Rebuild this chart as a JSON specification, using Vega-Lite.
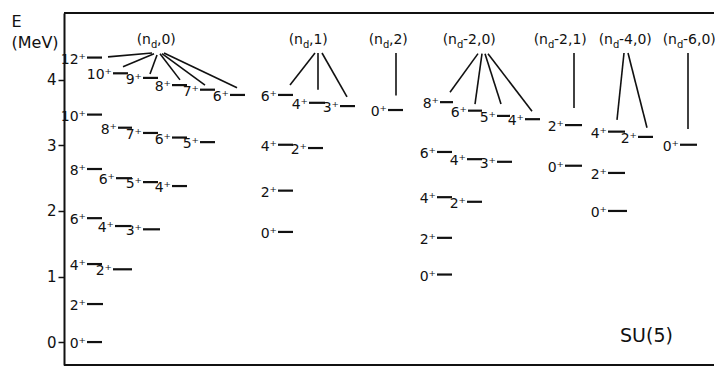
{
  "$schema": "https://vega.github.io/schema/vega-lite/v6.json",
  "width": 650,
  "height": 352,
  "autosize": {"type": "none"},
  "padding": {"left": 64, "top": 13, "right": 1, "bottom": 2},
  "background": "white",
  "config": {"view": {"stroke": null}, "font": "DejaVu Sans"},
  "datasets": {
    "levels": [
      {"J": "0⁺", "E": 0.0, "x": 4.6, "x2": 7.6},
      {"J": "2⁺", "E": 0.58, "x": 4.6, "x2": 7.8},
      {"J": "4⁺", "E": 1.19, "x": 4.6, "x2": 7.6},
      {"J": "2⁺", "E": 1.11, "x": 9.8, "x2": 13.6},
      {"J": "6⁺", "E": 1.89, "x": 4.6, "x2": 7.6},
      {"J": "4⁺", "E": 1.77, "x": 10.2, "x2": 13.4},
      {"J": "3⁺", "E": 1.72, "x": 15.8, "x2": 19.2},
      {"J": "8⁺", "E": 2.64, "x": 4.6, "x2": 7.6},
      {"J": "6⁺", "E": 2.5, "x": 10.4, "x2": 13.6},
      {"J": "5⁺", "E": 2.44, "x": 15.8, "x2": 18.8},
      {"J": "4⁺", "E": 2.38, "x": 21.6, "x2": 24.6},
      {"J": "10⁺", "E": 3.47, "x": 4.6, "x2": 7.6},
      {"J": "8⁺", "E": 3.27, "x": 10.8, "x2": 13.6},
      {"J": "7⁺", "E": 3.19, "x": 15.8, "x2": 18.8},
      {"J": "6⁺", "E": 3.12, "x": 21.6, "x2": 24.6},
      {"J": "5⁺", "E": 3.05, "x": 27.2, "x2": 30.2},
      {"J": "12⁺", "E": 4.34, "x": 4.6, "x2": 7.6},
      {"J": "10⁺", "E": 4.1, "x": 9.8, "x2": 12.8},
      {"J": "9⁺", "E": 4.03, "x": 15.8, "x2": 18.8},
      {"J": "8⁺", "E": 3.92, "x": 21.6, "x2": 24.6},
      {"J": "7⁺", "E": 3.85, "x": 27.2, "x2": 30.2},
      {"J": "6⁺", "E": 3.77, "x": 33.2, "x2": 36.2},
      {"J": "6⁺", "E": 3.77, "x": 42.8, "x2": 45.8},
      {"J": "4⁺", "E": 3.65, "x": 49.0, "x2": 52.2},
      {"J": "3⁺", "E": 3.6, "x": 55.2, "x2": 58.2},
      {"J": "4⁺", "E": 3.01, "x": 42.8, "x2": 45.8},
      {"J": "2⁺", "E": 2.96, "x": 48.8, "x2": 51.8},
      {"J": "2⁺", "E": 2.31, "x": 42.8, "x2": 45.8},
      {"J": "0⁺", "E": 1.68, "x": 42.8, "x2": 45.8},
      {"J": "0⁺", "E": 3.54, "x": 64.8, "x2": 67.8},
      {"J": "8⁺", "E": 3.66, "x": 75.2, "x2": 77.8},
      {"J": "6⁺", "E": 3.53, "x": 80.8, "x2": 83.6},
      {"J": "5⁺", "E": 3.45, "x": 86.6, "x2": 89.2},
      {"J": "4⁺", "E": 3.4, "x": 92.2, "x2": 95.2},
      {"J": "6⁺", "E": 2.9, "x": 74.6, "x2": 77.6},
      {"J": "4⁺", "E": 2.79, "x": 80.6, "x2": 83.6},
      {"J": "3⁺", "E": 2.75, "x": 86.6, "x2": 89.6},
      {"J": "4⁺", "E": 2.21, "x": 74.6, "x2": 77.6},
      {"J": "2⁺", "E": 2.14, "x": 80.6, "x2": 83.6},
      {"J": "2⁺", "E": 1.59, "x": 74.6, "x2": 77.6},
      {"J": "0⁺", "E": 1.03, "x": 74.6, "x2": 77.6},
      {"J": "2⁺", "E": 3.31, "x": 100.2, "x2": 103.6},
      {"J": "0⁺", "E": 2.69, "x": 100.2, "x2": 103.6},
      {"J": "4⁺", "E": 3.21, "x": 108.8, "x2": 112.2},
      {"J": "2⁺", "E": 3.13, "x": 114.8, "x2": 117.8},
      {"J": "2⁺", "E": 2.58, "x": 108.8, "x2": 112.2},
      {"J": "0⁺", "E": 2.0, "x": 108.8, "x2": 112.6},
      {"J": "0⁺", "E": 3.01, "x": 123.2, "x2": 126.6}
    ],
    "fans": [
      {"E": 4.35, "x": 8.8, "E2": 4.41, "x2": 17.6},
      {"E": 4.2, "x": 11.8, "E2": 4.4, "x2": 18.0},
      {"E": 4.09, "x": 17.2, "E2": 4.38, "x2": 18.6},
      {"E": 4.0, "x": 23.2, "E2": 4.4, "x2": 19.2},
      {"E": 3.92, "x": 28.2, "E2": 4.4, "x2": 19.6},
      {"E": 3.88, "x": 34.6, "E2": 4.41, "x2": 20.0},
      {"E": 3.92, "x": 45.2, "E2": 4.41, "x2": 50.2},
      {"E": 3.85, "x": 50.8, "E2": 4.41, "x2": 50.8},
      {"E": 3.74, "x": 56.6, "E2": 4.41, "x2": 51.6},
      {"E": 3.76, "x": 66.4, "E2": 4.41, "x2": 66.4},
      {"E": 3.81, "x": 77.2, "E2": 4.4, "x2": 82.8},
      {"E": 3.63, "x": 82.2, "E2": 4.4, "x2": 83.6},
      {"E": 3.63, "x": 87.4, "E2": 4.4, "x2": 84.2},
      {"E": 3.52, "x": 93.6, "E2": 4.4, "x2": 84.8},
      {"E": 3.57, "x": 102.0, "E2": 4.41, "x2": 102.0},
      {"E": 3.39, "x": 110.6, "E2": 4.41, "x2": 112.0},
      {"E": 3.27, "x": 116.6, "E2": 4.41, "x2": 112.8},
      {"E": 3.25, "x": 124.8, "E2": 4.41, "x2": 124.8}
    ],
    "groups": [
      {"rest": ",0)", "E": 4.61, "x": 17.4},
      {"rest": ",1)", "E": 4.61, "x": 47.8},
      {"rest": ",2)", "E": 4.61, "x": 63.8},
      {"rest": "-2,0)", "E": 4.61, "x": 78.6},
      {"rest": "-2,1)", "E": 4.61, "x": 96.8},
      {"rest": "-4,0)", "E": 4.61, "x": 109.8},
      {"rest": "-6,0)", "E": 4.61, "x": 122.6}
    ]
  },
  "encoding": {
    "y": {
      "field": "E",
      "type": "quantitative",
      "scale": {"domain": [-0.35, 5.02], "nice": false, "zero": false},
      "axis": {
        "values": [0, 1, 2, 3, 4],
        "grid": false,
        "domainWidth": 2,
        "domainColor": "#111",
        "tickColor": "#111",
        "tickSize": 6,
        "tickWidth": 1.5,
        "labelFontSize": 15,
        "labelFont": "DejaVu Sans",
        "labelColor": "#111",
        "labelPadding": 2,
        "title": ["\u2002E", "(MeV)"],
        "titleAngle": 0,
        "titleAlign": "left",
        "titleBaseline": "top",
        "titleX": -53,
        "titleY": 0,
        "titleFontSize": 16,
        "titleFontWeight": "normal",
        "titleFont": "DejaVu Sans",
        "titleColor": "#111",
        "titleLineHeight": 21
      }
    }
  },
  "layer": [
    {
      "data": {"values": [{"E": 5.02}, {"E": -0.35}]},
      "mark": {"type": "rule", "strokeWidth": 2, "color": "#111"},
      "encoding": {}
    },
    {
      "data": {"name": "levels"},
      "mark": {"type": "rule", "strokeWidth": 2.2, "color": "#111"},
      "encoding": {
        "x": {"field": "x", "type": "quantitative", "scale": {"domain": [0, 130], "nice": false, "zero": false}, "axis": null},
        "x2": {"field": "x2"}
      }
    },
    {
      "data": {"name": "levels"},
      "mark": {"type": "text", "align": "right", "baseline": "middle", "dx": -1, "dy": 2, "fontSize": 14, "font": "DejaVu Sans", "color": "#111"},
      "encoding": {
        "x": {"field": "x", "type": "quantitative", "scale": {"domain": [0, 130], "nice": false, "zero": false}, "axis": null},
        "text": {"field": "J"}
      }
    },
    {
      "data": {"name": "fans"},
      "mark": {"type": "rule", "strokeWidth": 1.6, "color": "#111"},
      "encoding": {
        "x": {"field": "x", "type": "quantitative", "scale": {"domain": [0, 130], "nice": false, "zero": false}, "axis": null},
        "x2": {"field": "x2"},
        "y2": {"field": "E2"}
      }
    },
    {
      "data": {"name": "groups"},
      "mark": {"type": "text", "align": "right", "baseline": "middle", "fontSize": 14, "font": "DejaVu Sans", "color": "#111"},
      "encoding": {
        "x": {"field": "x", "type": "quantitative", "scale": {"domain": [0, 130], "nice": false, "zero": false}, "axis": null},
        "text": {"value": "(n"}
      }
    },
    {
      "data": {"name": "groups"},
      "mark": {"type": "text", "align": "left", "baseline": "middle", "dx": 0, "dy": 5, "fontSize": 10, "font": "DejaVu Sans", "color": "#111"},
      "encoding": {
        "x": {"field": "x", "type": "quantitative", "scale": {"domain": [0, 130], "nice": false, "zero": false}, "axis": null},
        "text": {"value": "d"}
      }
    },
    {
      "data": {"name": "groups"},
      "mark": {"type": "text", "align": "left", "baseline": "middle", "dx": 6, "fontSize": 14, "font": "DejaVu Sans", "color": "#111"},
      "encoding": {
        "x": {"field": "x", "type": "quantitative", "scale": {"domain": [0, 130], "nice": false, "zero": false}, "axis": null},
        "text": {"field": "rest"}
      }
    },
    {
      "data": {"values": [{"label": "SU(5)", "E": 0.09, "x": 111.2}]},
      "mark": {"type": "text", "align": "left", "baseline": "middle", "fontSize": 19, "font": "DejaVu Sans", "color": "#111"},
      "encoding": {
        "x": {"field": "x", "type": "quantitative", "scale": {"domain": [0, 130], "nice": false, "zero": false}, "axis": null},
        "text": {"field": "label"}
      }
    }
  ]
}
